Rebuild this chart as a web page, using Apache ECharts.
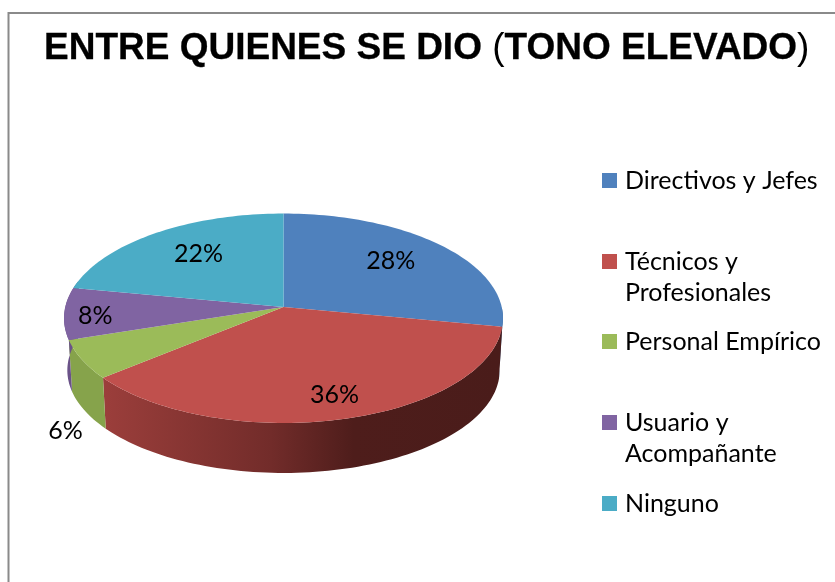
<!DOCTYPE html>
<html><head><meta charset="utf-8">
<style>html,body{margin:0;padding:0;background:#fff}#c{width:835px;height:582px}</style>
<script src="https://cdn.jsdelivr.net/npm/echarts@6/dist/echarts.min.js"></script>
</head><body><div id="c"></div>
<script>
const categories = ['Directivos y Jefes','Técnicos y Profesionales','Personal Empírico','Usuario y Acompañante','Ninguno'];
const values = [28,36,6,8,22];
const colors = ['#4f81bd','#c0504d','#9bbb59','#8064a2','#4bacc6'];
const wrappedNames = ['Directivos y Jefes','Técnicos y\nProfesionales','Personal Empírico','Usuario y\nAcompañante','Ninguno'];
const sideStops = [
  [[0,'#3d6591'],[1,'#3d6591']],
  [[0,'#9b3e3b'],[0.42,'#722c2a'],[0.63,'#4e1d1b'],[1,'#4a1c1a']],
  [[0,'#86a34b'],[1,'#7e9a46']],
  [[0,'#6a5288'],[1,'#6a5288']],
  [[0,'#3a8ba1'],[1,'#3a8ba1']]
];
// layout
const CX=283.5, CY=307, A=218.2, B=103.5, K=0.1074, DEPTH=52.3, SX=0.985, SY=0.98;
const labelR=[0.68,0.75,1.1,0.85,0.7];
const labelNudge=[[-2,-3.5],[7,6.5],[5,66],[-2,3.4],[7,0]];
const legendCenter=[180.5,261.5,341.5,422.5,503.5];
const LINE=31;
const total=values.reduce((a,b)=>a+b,0);

function project(thetaDeg,r){
  const t=thetaDeg*Math.PI/180, X=Math.sin(t)*r, Y=-Math.cos(t)*r, w=1/(1-K*Y);
  return [CX+A*X*w, CY+B*Y*w];
}
function lower(p){ return [CX+SX*(p[0]-CX), CY+DEPTH+SY*(p[1]-CY)]; }
function arcPts(a0,a1){ const n=Math.max(2,Math.ceil((a1-a0)/1.5)),o=[];
  for(let i=0;i<=n;i++) o.push(project(a0+(a1-a0)*i/n,1)); return o; }

function renderSlice(idx){
  return function(params,api){
    const cum=values.slice(0,idx).reduce((a,b)=>a+b,0);
    const a0=cum/total*360, a1=(cum+api.value(0))/total*360;
    const rim=arcPts(a0,a1);
    const children=[];
    // side wall, only the part facing the viewer
    const f0=Math.max(a0,90), f1=Math.min(a1,285);
    if(f1>f0){
      const top=arcPts(f0,f1), bot=top.map(lower).reverse();
      children.push({type:'polygon',z2:1,shape:{points:top.concat(bot)},
        style:{fill:new echarts.graphic.LinearGradient(105,0,500,0,
          sideStops[idx].map(s=>({offset:s[0],color:s[1]})),true)}});
    }
    children.push({type:'polygon',z2:2,shape:{points:[[CX,CY]].concat(rim)},style:{fill:api.visual('color')}});
    const mid=(a0+a1)/2, lp=project(mid,labelR[idx]);
    children.push({type:'text',z2:3,x:lp[0]+labelNudge[idx][0],y:lp[1]+labelNudge[idx][1],
      style:{text:Math.round(api.value(0)/total*100)+'%',fill:'#000',font:'25px Lato',align:'center',verticalAlign:'middle'}});
    return {type:'group',children};
  };
}

const chart=echarts.init(document.getElementById('c'),null,{renderer:'canvas'});
chart.setOption({
  animation:false,
  backgroundColor:'#fff',
  title:{
    text:'{b|ENTRE QUIENES SE DIO }{n|(}{b|TONO ELEVADO}{n|)}',
    left:39, top:25,
    textStyle:{rich:{
      b:{fontFamily:'Liberation Sans',fontWeight:'bold',fontSize:37,color:'#000',textBorderColor:'#000',textBorderWidth:0.3},
      n:{fontFamily:'Liberation Sans',fontWeight:'normal',fontSize:37,color:'#000'}
    }}
  },
  legend:categories.map((c,i)=>{
    const two=wrappedNames[i].includes('\n');
    return {
      data:[c], left:602, top:legendCenter[i]-(two?1.5*LINE:0.5*LINE), orient:'vertical', padding:0,
      itemWidth:15,itemHeight:15,itemGap:0,selectedMode:false,
      icon:'rect',
      // a leading blank line centres the first text line on the swatch
      formatter:()=>(two?'\n':'')+wrappedNames[i],
      textStyle:{fontFamily:'Lato',fontSize:25,color:'#000',lineHeight:LINE,padding:[0,0,0,3]}
    };
  }),
  graphic:[{type:'polyline',silent:true,z:-1,
    shape:{points:[[8.5,582],[8.5,13],[835,13]]},
    style:{stroke:'#8a8a8a',lineWidth:2,fill:null}}],
  series:categories.map((c,i)=>({
    type:'custom',name:c,coordinateSystem:'none',
    itemStyle:{color:colors[i]},
    data:[[values[i]]],
    renderItem:renderSlice(i),silent:true
  }))
});
</script></body></html>
